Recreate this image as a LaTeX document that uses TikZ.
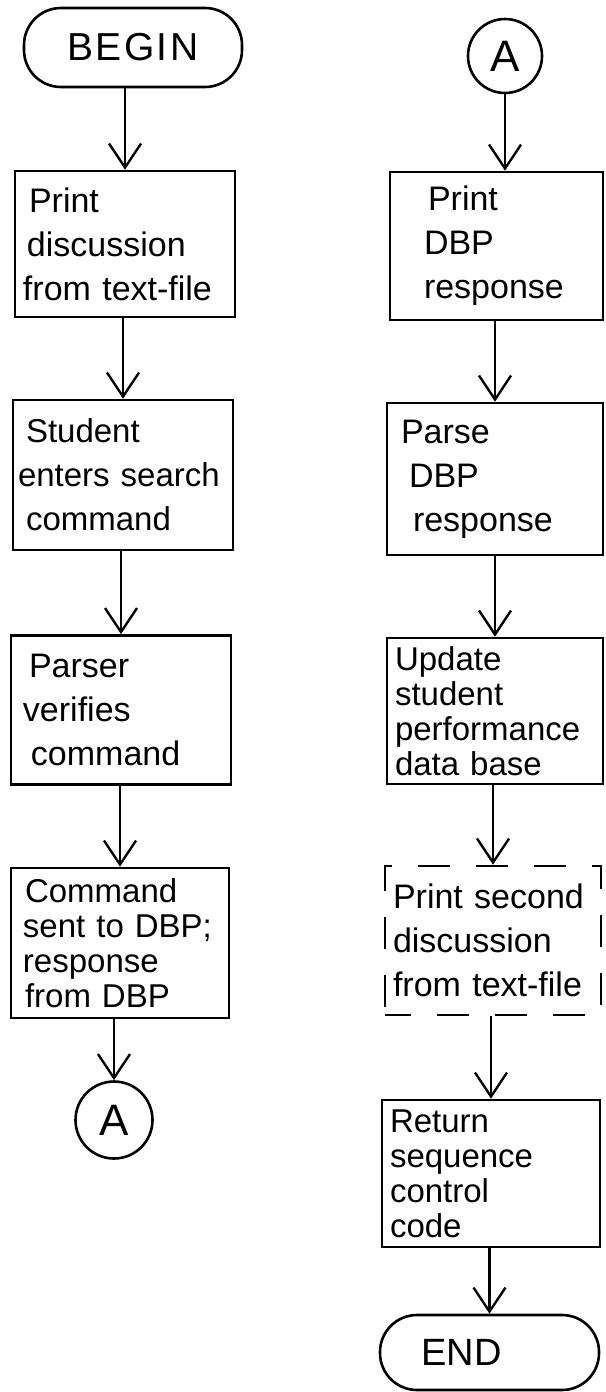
\documentclass[tikz,border=0pt]{standalone}
\usepackage{fontspec}
\setmainfont{Liberation Sans}
\usetikzlibrary{arrows.meta}
\begin{document}
\begin{tikzpicture}[x=1pt,y=-1pt,
  every node/.style={font=\fontsize{34}{44}\selectfont},
  box/.style={draw, line width=2.6pt, rectangle, align=left, inner xsep=8pt, inner ysep=0pt},
  small/.style={font=\fontsize{33}{35}\selectfont},
  term/.style={draw, line width=2.6pt, rectangle, rounded corners=37pt, inner sep=0pt, font=\fontsize{39}{44}\selectfont},
  conn/.style={draw, circle, line width=2.6pt, inner sep=0pt, font=\fontsize{44}{44}\selectfont},
  arr/.style={line width=2.4pt, -{Straight Barb[length=24pt,width=32pt]}},
  dashbox/.style={box, dash pattern=on 32pt off 26pt, dash phase=6pt},
]
\useasboundingbox (0,0) rectangle (605,1392);

% left column
\node[term, minimum width=218pt, minimum height=79pt] (begin) at (133,47.5) {\addfontfeature{LetterSpace=6}BEGIN};
\node[box, text width=204pt, minimum height=146pt] (b1) at (125,244) {\hspace*{6pt}Print\\\hspace*{4pt}discussion\\from text-file};
\node[box, text width=210pt, inner xsep=5pt, minimum height=150pt, font=\fontsize{33}{44}\selectfont] (b2) at (123,475) {\hspace*{8pt}Student\\\mbox{enters search}\\\hspace*{8pt}command};
\node[box, text width=204pt, minimum height=149pt] (b3) at (121,710) {\hspace*{10pt}Parser\\\hspace*{4pt}verifies\\\hspace*{12pt}command};
\node[box, small, text width=202pt, minimum height=150pt] (b4) at (120,943) {\hspace*{6pt}Command\\\hspace*{4pt}sent to DBP;\\\hspace*{4pt}response\\\hspace*{6pt}from DBP};
\node[conn, minimum size=77pt] (a1) at (114,1120) {A};

% right column
\node[conn, minimum size=74pt] (a2) at (505,56) {A};
\node[box, text width=197pt, minimum height=148pt] (r1) at (496.5,246) {\hspace*{30pt}Print\\\hspace*{26pt}DBP\\\hspace*{26pt}response};
\node[box, text width=200pt, minimum height=152pt] (r2) at (495,479) {\hspace*{6pt}Parse\\\hspace*{14pt}DBP\\\hspace*{18pt}response};
\node[box, small, text width=200pt, minimum height=146pt] (r3) at (495,711) {Update\\student\\performance\\data base};
\node[dashbox, text width=200pt, minimum height=149pt] (r4) at (493,940.5) {Print second\\discussion\\from text-file};
\node[box, small, text width=202pt, minimum height=147pt] (r5) at (491,1173.5) {Return\\sequence\\control\\code};
\node[term, minimum width=219pt, minimum height=75pt, font=\fontsize{38}{44}\selectfont] (end) at (489.5,1352.5) {END\hspace*{56pt}};

% connectors
\draw[arr] (begin.south -| b1.north) -- (b1.north);
\draw[arr] (b1.south -| b2.north) -- (b2.north);
\draw[arr] (b2.south -| b3.north) -- (b3.north);
\draw[arr] (b3.south -| b4.north) -- (b4.north);
\draw[arr] (b4.south -| a1.north) -- (a1.north);

\draw[arr] (a2.south) -- (a2.south |- r1.north);
\draw[arr] (r1.south -| r2.north) -- (r2.north);
\draw[arr] (r2.south -| r3.north) -- (r3.north);
\draw[arr] (r3.south -| r4.north) -- (r4.north);
\draw[arr] (r4.south -| r5.north) -- (r5.north);
\draw[arr] (r5.south -| end.north) -- (end.north);
\end{tikzpicture}
\end{document}
